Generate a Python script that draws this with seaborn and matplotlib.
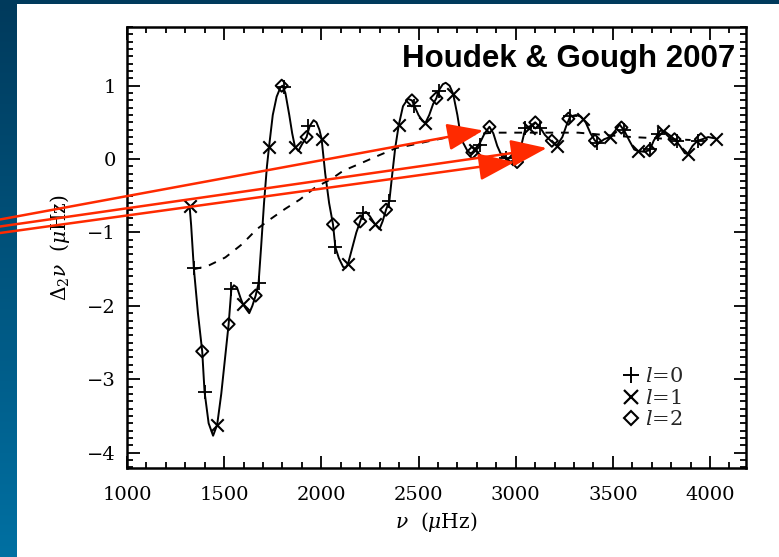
import numpy as np
import pandas as pd
import matplotlib
matplotlib.use("Agg")
import matplotlib.pyplot as plt
import seaborn as sns
from matplotlib.lines import Line2D

# ---------------- data ----------------
curve_nu = [1322, 1330, 1344, 1365, 1387, 1399, 1420, 1443, 1464, 1485, 1505, 1523, 1537,
            1550, 1566, 1585, 1597, 1615, 1629, 1645, 1662, 1677, 1690, 1705, 1720, 1731,
            1750, 1770, 1790, 1800, 1815, 1835, 1850, 1864, 1882, 1900, 1924, 1940, 1960,
            1975, 1990, 2001, 2020, 2040, 2060, 2072, 2090, 2112, 2125, 2137, 2160, 2180,
            2200, 2214, 2230, 2250, 2274, 2299, 2315, 2333, 2350, 2365, 2380, 2398, 2420,
            2445, 2466, 2478, 2500, 2520, 2535, 2555, 2575, 2592, 2603, 2625, 2640, 2660,
            2678, 2700, 2715, 2730, 2750, 2765, 2777, 2795, 2816, 2840, 2865, 2885, 2905,
            2930, 2956, 2980, 2998, 3015, 3030, 3050, 3075, 3101, 3126, 3150, 3180, 3211,
            3240, 3260, 3280, 3310, 3335, 3360, 3385, 3408, 3430, 3455, 3484, 3510, 3535,
            3560, 3585, 3610, 3629, 3660, 3689, 3710, 3731, 3745, 3770, 3795, 3817, 3845,
            3870, 3885, 3910, 3936, 3960, 3990, 4030]
curve_d2 = [-0.64, -0.90, -1.49, -2.10, -2.62, -3.17, -3.60, -3.77, -3.62, -3.20, -2.70, -2.25, -1.77,
            -1.72, -1.75, -1.90, -1.98, -2.05, -2.10, -2.00, -1.86, -1.69, -1.20, -0.60, -0.10, 0.17,
            0.60, 0.85, 0.98, 1.00, 0.90, 0.60, 0.35, 0.17, 0.11, 0.20, 0.30, 0.45, 0.53,
            0.50, 0.40, 0.28, -0.20, -0.60, -0.89, -1.20, -1.35, -1.47, -1.48, -1.43, -1.20, -1.00,
            -0.85, -0.74, -0.72, -0.78, -0.88, -0.955, -0.85, -0.69, -0.57, -0.20, 0.15, 0.46, 0.72,
            0.82, 0.80, 0.73, 0.60, 0.52, 0.49, 0.60, 0.75, 0.83, 0.93, 1.02, 1.04, 1.00,
            0.89, 0.60, 0.35, 0.22, 0.12, 0.08, 0.09, 0.15, 0.22, 0.35, 0.44, 0.35, 0.18,
            0.03, 0.00, -0.05, -0.07, -0.02, 0.20, 0.42, 0.45, 0.50, 0.43, 0.33, 0.25, 0.18,
            0.30, 0.45, 0.58, 0.60, 0.58, 0.50, 0.35, 0.25, 0.22, 0.27, 0.30, 0.38, 0.47,
            0.38, 0.25, 0.13, 0.11, 0.10, 0.12, 0.25, 0.34, 0.39, 0.37, 0.32, 0.27, 0.18,
            0.08, 0.07, 0.18, 0.25, 0.27, 0.30, 0.28]

smooth_nu = [1344, 1413, 1506, 1592, 1668, 1737, 1813, 1890, 1967, 2052, 2112, 2205, 2291,
             2385, 2478, 2564, 2657, 2750, 2887, 3000, 3150, 3322, 3450, 3600, 3750, 3900]
smooth_d2 = [-1.50, -1.46, -1.34, -1.16, -0.955, -0.82, -0.68, -0.55, -0.39, -0.27, -0.16, -0.055, 0.045,
             0.15, 0.20, 0.25, 0.30, 0.33, 0.36, 0.36, 0.36, 0.36, 0.33, 0.30, 0.28, 0.26]

l0_nu = [1344, 1399, 1537, 1677, 1810, 1933, 2072, 2214, 2350, 2478, 2603, 2816, 2950,
         3050, 3126, 3280, 3420, 3555, 3690, 3731, 3830, 3936]
l0_d2 = [-1.49, -3.17, -1.77, -1.69, 0.98, 0.45, -1.20, -0.74, -0.57, 0.73, 0.93, 0.19, 0.01,
         0.42, 0.43, 0.59, 0.22, 0.40, 0.14, 0.34, 0.24, 0.25]

l1_nu = [1322, 1464, 1597, 1731, 1864, 2001, 2137, 2274, 2398, 2535, 2678, 2790, 2956,
         3066, 3211, 3348, 3484, 3629, 3757, 3885, 4030]
l1_d2 = [-0.64, -3.62, -1.98, 0.17, 0.17, 0.28, -1.43, -0.88, 0.46, 0.49, 0.89, 0.12, 0.00,
         0.43, 0.18, 0.55, 0.30, 0.11, 0.38, 0.07, 0.28]

l2_nu = [1387, 1523, 1662, 1796, 1924, 2060, 2200, 2333, 2466, 2592, 2777, 2865, 3007,
         3101, 3186, 3271, 3408, 3544, 3689, 3817, 3953]
l2_d2 = [-2.62, -2.25, -1.86, 1.00, 0.30, -0.89, -0.85, -0.69, 0.80, 0.83, 0.09, 0.44, -0.04,
         0.50, 0.25, 0.55, 0.25, 0.43, 0.12, 0.27, 0.27]

legend_labels = ["$l$=0", "$l$=1", "$l$=2"]
x_ticks = [1000, 1500, 2000, 2500, 3000, 3500, 4000]
y_ticks = [-4, -3, -2, -1, 0, 1]

# arrow targets (data coords) and arrow start heights (figure pixels from top, at left edge)
arrow_tip_nu = [2833, 3160, 2995]
arrow_tip_d2 = [0.39, 0.15, -0.04]
arrow_start_y = [219.5, 226.5, 233.0]

# ---------------- figure ----------------
sns.set_theme(style="white")
plt.rcParams["font.family"] = ["DejaVu Serif"]
plt.rcParams["mathtext.fontset"] = "dejavuserif"

W, H = 779, 557
fig = plt.figure(figsize=(W / 100, H / 100), dpi=100)
fig.patch.set_facecolor("white")

# slide background: blue gradient strip at left, dark strip on top
bg = fig.add_axes([0, 0, 1, 1], zorder=-5)
bg.set_xlim(0, W)
bg.set_ylim(H, 0)
bg.axis("off")
grad = np.linspace(0, 1, 256).reshape(-1, 1)
top_c = np.array([0, 58, 92]) / 255
bot_c = np.array([0, 112, 162]) / 255
img = top_c[None, None, :] * (1 - grad[:, :, None]) + bot_c[None, None, :] * grad[:, :, None]
bg.imshow(img, extent=[0, 17, H, 0], aspect="auto")
bg.add_patch(plt.Rectangle((0, 0), W, 3.5, color=top_c, lw=0))

L, R, T, B = 127, 746, 27, 468
ax = fig.add_axes([L / W, 1 - B / H, (R - L) / W, (B - T) / H])
ax.set_facecolor("white")

df_curve = pd.DataFrame({"nu": curve_nu, "d2": curve_d2})
df_smooth = pd.DataFrame({"nu": smooth_nu, "d2": smooth_d2})
sns.lineplot(data=df_curve, x="nu", y="d2", ax=ax, color="black", lw=1.4,
             estimator=None, sort=False)
sns.lineplot(data=df_smooth, x="nu", y="d2", ax=ax, color="black", lw=1.4,
             estimator=None, sort=False, dashes=False, linestyle=(0, (4, 4)))

ax.scatter(l0_nu, l0_d2, marker="+", s=110, c="black", linewidths=1.3, zorder=5)
ax.scatter(l1_nu, l1_d2, marker="x", s=80, c="black", linewidths=1.5, zorder=5)
ax.scatter(l2_nu, l2_d2, marker="D", s=38, facecolors="none", edgecolors="black",
           linewidths=1.4, zorder=5)

ax.set_xlim(1000, 4185)
ax.set_ylim(-4.21, 1.80)
ax.set_xticks(x_ticks)
ax.set_yticks(y_ticks)
ax.set_xticklabels([str(v) for v in x_ticks])
ax.set_yticklabels([("\u2212" + str(-v)) if v < 0 else str(v) for v in y_ticks])
ax.xaxis.set_minor_locator(matplotlib.ticker.MultipleLocator(100))
ax.yaxis.set_minor_locator(matplotlib.ticker.MultipleLocator(0.1))
ax.tick_params(which="both", direction="in", top=True, right=True, bottom=True, left=True,
               color="black", width=1.3)
ax.tick_params(which="major", length=9)
ax.tick_params(which="minor", length=4.5)
ax.tick_params(axis="x", which="major", pad=13, labelsize=14, labelcolor="black")
ax.tick_params(axis="y", which="major", pad=8, labelsize=14, labelcolor="black")
for s in ax.spines.values():
    s.set_linewidth(1.8)
    s.set_color("black")

ax.set_xlabel(r"$\nu$  ($\mu$Hz)", fontsize=14.5, color="black", labelpad=4)
ax.set_ylabel(r"$\Delta_2\nu$  ($\mu$Hz)", fontsize=14.5, color="black", labelpad=11)

# legend
handles = [Line2D([], [], ls="none", marker="+", ms=12, mew=1.4, color="black"),
           Line2D([], [], ls="none", marker="x", ms=10, mew=1.6, color="black"),
           Line2D([], [], ls="none", marker="D", ms=7.5, mew=1.5, mfc="none", mec="black")]
ax.legend(handles, legend_labels, frameon=False, loc="upper left",
          bbox_to_anchor=(0.80, 0.228), handlelength=0.8, handletextpad=0.3,
          labelspacing=0.12, fontsize=15, borderaxespad=0, borderpad=0)

# title text
fig.text(735 / W, 1 - 67 / H, "Houdek & Gough 2007", ha="right", va="baseline",
         fontsize=22.5, fontweight="bold", family="Liberation Sans", color="black")

# red arrows
for tnu, td2, sy in zip(arrow_tip_nu, arrow_tip_d2, arrow_start_y):
    ax.annotate("", xy=(tnu, td2), xycoords="data",
                xytext=(0, H - sy), textcoords="figure pixels",
                arrowprops=dict(arrowstyle="-|>,head_length=1.6,head_width=0.6",
                                color="#ff2a00", lw=1.8, mutation_scale=14,
                                shrinkA=0, shrinkB=0),
                annotation_clip=False, zorder=10)

fig.savefig("out.png", dpi=100)
